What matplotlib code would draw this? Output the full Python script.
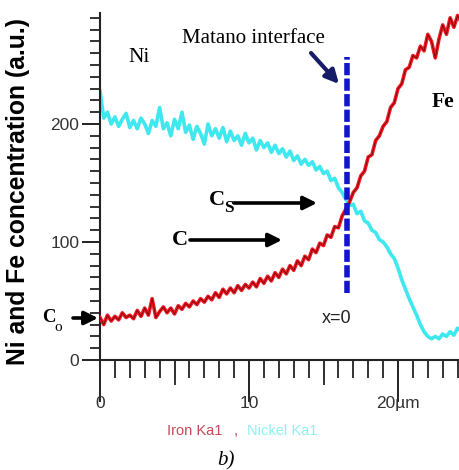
import numpy as np
import matplotlib
matplotlib.use("Agg")
import matplotlib.pyplot as plt
from matplotlib.ticker import MultipleLocator, FixedLocator

# ---------------- data ----------------
x_um = np.arange(0, 24.26, 0.25)

nickel = [228, 205, 210, 200, 206, 198, 204, 209, 197, 203,
          196, 205, 200, 192, 203, 198, 214, 196, 201, 190,
          204, 196, 210, 193, 199, 187, 198, 192, 183, 200,
          190, 196, 188, 197, 185, 194, 186, 190, 182, 192,
          184, 188, 178, 186, 180, 184, 176, 182, 175, 179,
          172, 177, 169, 173, 166, 170, 165, 168, 161, 164,
          158, 160, 152, 154, 146, 142, 136, 131, 132, 124,
          126, 118, 116, 110, 108, 102, 100, 96, 90, 86,
          78, 68, 60, 52, 45, 38, 30, 24, 20, 18,
          20, 18, 22, 20, 24, 21, 27, 25]

iron = [36, 30, 38, 33, 37, 34, 40, 36, 38, 35,
        42, 37, 44, 38, 52, 36, 41, 45, 40, 44,
        39, 46, 43, 48, 45, 50, 47, 52, 49, 54,
        51, 57, 53, 60, 56, 61, 57, 63, 59, 64,
        61, 66, 62, 69, 65, 71, 67, 74, 70, 77,
        73, 80, 76, 84, 80, 88, 85, 94, 91, 99,
        97, 106, 104, 113, 112, 122, 128, 134, 142, 146,
        156, 160, 172, 174, 186, 190, 198, 202, 214, 218,
        230, 234, 246, 248, 258, 256, 266, 262, 276, 270,
        256, 272, 284, 276, 290, 282, 292, 286]

matano_x = 16.6
matano_y = [57, 257]

x_major = [0, 10, 20]
x_major_labels = ["0", "10", "20µm"]
x_mid = [5, 15]
y_major = [0, 100, 200]

W, H = 459, 470


def px2data(px, py):
    return ((px - 100) / 14.9, (360 - py) / 1.18)


def fx(px):
    return px / W


def fy(py):
    return 1 - py / H


fig = plt.figure(figsize=(W / 100, H / 100), dpi=100)
ax = fig.add_axes([100 / W, 1 - 360 / H, 1 - 100 / W, (360 - 13) / H])

ax.plot(x_um[:len(nickel)], nickel, color="#3ee8ee", lw=2.6, solid_joinstyle="round", zorder=2)
ax.plot(x_um[:len(iron)], iron, color="#ee1a22", lw=2.6, zorder=3)
ax.plot(x_um[:len(iron)], iron, color="#7a0008", lw=0.6, zorder=4)
ax.plot([matano_x, matano_x], matano_y, color="#1414cc", lw=4.0,
        dashes=(2.2, 0.6), zorder=5)

ax.set_xlim(0, (W - 100) / 14.9)
ax.set_ylim(0, (360 - 13) / 1.18)

for s in ["top", "right"]:
    ax.spines[s].set_visible(False)
for s in ["left", "bottom"]:
    ax.spines[s].set_linewidth(1.5)
    ax.spines[s].set_color("#222222")

ax.xaxis.set_major_locator(FixedLocator(x_major))
ax.set_xticklabels(x_major_labels)
ax.xaxis.set_minor_locator(MultipleLocator(1))
ax.yaxis.set_major_locator(FixedLocator(y_major))
ax.yaxis.set_minor_locator(MultipleLocator(10))

ax.tick_params(axis="x", which="major", direction="out", length=30, width=1.4,
               color="#222222", labelsize=12.5, labelcolor="#333333", pad=-4)
ax.tick_params(axis="x", which="minor", direction="out", length=13, width=1.4,
               color="#333333")
ax.tick_params(axis="y", which="major", direction="out", length=13, width=1.4,
               color="#222222", labelsize=12.5, labelcolor="#333333", pad=2)
ax.tick_params(axis="y", which="minor", direction="out", length=7, width=1.4,
               color="#333333")
for lab in ax.get_xticklabels() + ax.get_yticklabels():
    lab.set_family("Liberation Sans")

sec = ax.secondary_xaxis("bottom")
sec.set_xticks(x_mid)
sec.set_xticklabels([])
sec.tick_params(direction="out", length=18, width=1.4, color="#333333")
sec.spines["bottom"].set_visible(False)

ax.set_ylabel("Ni and Fe concentration (a.u.)", family="Liberation Sans",
              fontweight="bold", fontsize=17.8)
ax.yaxis.set_label_coords(-70 / 359, 0.485)

serif = "Liberation Serif"
fig.text(fx(128), fy(62), "Ni", family=serif, fontsize=15.5, va="baseline")
fig.text(fx(182), fy(43), "Matano interface", family=serif, fontsize=15, va="baseline")
fig.text(fx(432), fy(107), "Fe", family=serif, fontsize=15.5, fontweight="bold", va="baseline")
fig.text(fx(209), fy(205), "C", family=serif, fontsize=16, fontweight="bold", va="baseline")
fig.text(fx(224), fy(212), "S", family=serif, fontsize=12.5, fontweight="bold", va="baseline")
fig.text(fx(172), fy(245), "C", family=serif, fontsize=16, fontweight="bold", va="baseline")
fig.text(fx(42), fy(322), "C", family=serif, fontsize=13.5, fontweight="bold", va="baseline")
fig.text(fx(54), fy(331), "o", family=serif, fontsize=11, va="baseline")
fig.text(fx(322), fy(323), "x=0", family="Liberation Sans", fontsize=13, va="baseline",
         color="#222222")
fig.text(fx(167), fy(435), "Iron Ka1", family="Liberation Sans", fontsize=10.5,
         va="baseline", color="#c8485a")
fig.text(fx(234), fy(435), ",", family="Liberation Sans", fontsize=10.5,
         va="baseline", color="#c8485a")
fig.text(fx(247), fy(435), "Nickel Ka1", family="Liberation Sans", fontsize=10.5,
         va="baseline", color="#8ef0f0")
fig.text(fx(217), fy(465), "b)", family=serif, fontsize=15, style="italic", va="baseline")

arrow_k = dict(arrowstyle="-|>", lw=2.6, mutation_scale=20, color="black",
               shrinkA=0, shrinkB=0)
ax.annotate("", xy=px2data(317, 203), xytext=px2data(234, 203), arrowprops=arrow_k,
            annotation_clip=False)
ax.annotate("", xy=px2data(282, 240), xytext=px2data(190, 240), arrowprops=arrow_k,
            annotation_clip=False)
ax.annotate("", xy=px2data(98, 318), xytext=px2data(73, 318), arrowprops=arrow_k,
            annotation_clip=False)
ax.annotate("", xy=px2data(339, 84), xytext=px2data(311, 53),
            arrowprops=dict(arrowstyle="-|>", lw=3, mutation_scale=20, color="#161c66",
                            shrinkA=0, shrinkB=0),
            annotation_clip=False)

fig.savefig("out.png", dpi=100, facecolor="white")
